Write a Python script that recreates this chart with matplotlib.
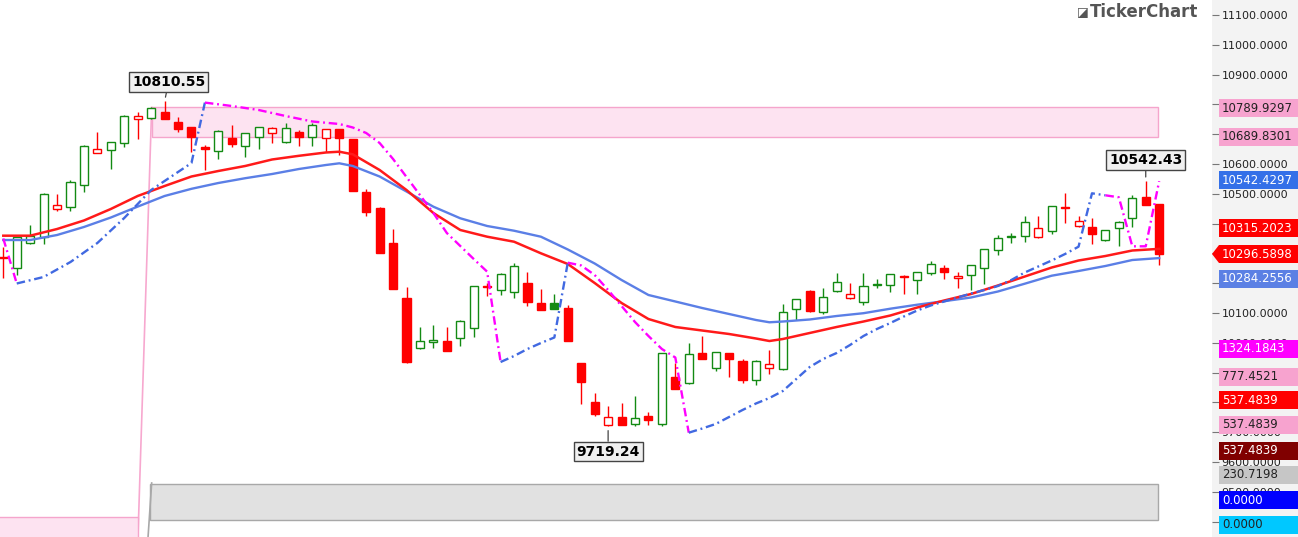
import numpy as np
import matplotlib.pyplot as plt
from matplotlib.patches import Rectangle, Polygon
from matplotlib.ticker import FuncFormatter

# daily candles
opens = [10287.9, 10249.9, 10335.8, 10356.0, 10448.9, 10456.7, 10529.5, 10635.8, 10646.9, 10671.4,
         10750.9, 10753.3, 10773.4, 10739.9, 10723.1, 10656.0, 10643.6, 10686.2, 10660.3, 10691.5,
         10705.0, 10672.8, 10706.3, 10691.5, 10686.2, 10716.4, 10682.8, 10507.0, 10453.3, 10333.8,
         10149.3, 9981.5, 10004.3, 10006.0, 10015.0, 10048.6, 10189.5, 10177.1, 10169.4, 10201.6,
         10134.5, 10132.5, 10115.7, 9931.1, 9800.3, 9725.0, 9752.0, 9726.0, 9755.3, 9728.0,
         9886.2, 9864.0, 9964.7, 9916.4, 9964.7, 9939.9, 9875.1, 9914.4, 9912.0, 10113.4,
         10174.8, 10104.3, 10174.8, 10149.3, 10135.8, 10195.6, 10193.9, 10223.1, 10210.7, 10235.2,
         10249.9, 10217.4, 10227.5, 10249.9, 10311.3, 10354.0, 10358.3, 10354.0, 10376.1, 10455.6,
         10391.9, 10389.5, 10344.9, 10384.2, 10417.7, 10488.2, 10464.7]
highs = [10322.4, 10356.0, 10395.2, 10501.6, 10498.3, 10546.2, 10663.7, 10708.3, 10674.8, 10764.4,
         10775.4, 10791.2, 10810.55, 10758.7, 10723.1, 10663.7, 10714.0, 10730.8, 10705.0, 10725.1,
         10725.1, 10736.5, 10714.0, 10736.5, 10718.0, 10718.0, 10684.0, 10515.0, 10455.0, 10380.8,
         10188.2, 10054.0, 10059.7, 10051.9, 10075.0, 10192.0, 10201.6, 10235.2, 10266.7, 10236.5,
         10179.5, 10163.7, 10126.8, 9932.0, 9830.5, 9788.9, 9796.9, 9822.4, 9766.7, 9966.0,
         9931.1, 9998.3, 10023.8, 9969.0, 9966.0, 9945.6, 9941.0, 9975.8, 10130.1, 10147.0,
         10176.0, 10182.8, 10233.2, 10199.6, 10233.2, 10213.0, 10229.8, 10228.0, 10236.5, 10275.4,
         10261.0, 10236.5, 10262.0, 10315.0, 10361.7, 10369.4, 10425.4, 10424.0, 10460.0, 10501.6,
         10425.4, 10417.7, 10380.0, 10408.0, 10495.9, 10542.43, 10466.0]
lows = [10216.4, 10227.5, 10331.5, 10331.5, 10443.2, 10443.2, 10507.0, 10635.8, 10583.2, 10656.0,
        10683.8, 10752.0, 10750.0, 10708.3, 10641.2, 10579.8, 10616.7, 10658.0, 10622.4, 10649.3,
        10671.4, 10670.0, 10660.3, 10660.3, 10641.2, 10630.1, 10508.0, 10425.4, 10300.0, 10179.0,
        9933.0, 9980.0, 9981.0, 9971.0, 9989.2, 10020.4, 10157.0, 10160.3, 10149.3, 10123.4,
        10109.0, 10112.0, 10006.0, 9793.0, 9754.3, 9719.24, 9723.0, 9722.0, 9724.0, 9721.0,
        9844.0, 9863.0, 9944.0, 9905.3, 9886.2, 9864.0, 9858.3, 9895.2, 9910.0, 10076.4,
        10105.0, 10096.6, 10169.4, 10148.0, 10126.8, 10182.8, 10171.4, 10163.7, 10163.7, 10227.5,
        10213.0, 10184.8, 10177.1, 10197.3, 10294.6, 10333.8, 10339.2, 10352.0, 10365.0, 10400.9,
        10390.0, 10331.5, 10343.0, 10324.8, 10387.5, 10461.0, 10261.0]
closes = [10284.5, 10354.0, 10357.0, 10498.3, 10462.4, 10540.5, 10660.3, 10651.3, 10674.8, 10762.0,
          10760.0, 10786.8, 10752.0, 10717.4, 10691.5, 10651.3, 10711.7, 10667.0, 10703.0, 10723.1,
          10719.7, 10722.4, 10691.5, 10730.8, 10716.4, 10686.2, 10509.3, 10439.9, 10302.3, 10180.5,
          9934.5, 10007.0, 10008.7, 9972.4, 10074.1, 10190.5, 10186.2, 10229.8, 10258.7, 10135.8,
          10110.0, 10113.4, 10007.0, 9869.4, 9761.0, 9749.9, 9725.0, 9746.6, 9740.9, 9964.7,
          9844.9, 9962.4, 9945.6, 9968.1, 9945.6, 9875.1, 9939.9, 9927.8, 10102.3, 10145.9,
          10106.6, 10152.6, 10203.0, 10162.7, 10191.5, 10198.9, 10229.8, 10220.7, 10236.5, 10263.4,
          10236.5, 10225.1, 10261.0, 10313.7, 10350.6, 10357.3, 10406.3, 10384.2, 10459.0, 10451.3,
          10408.7, 10365.0, 10378.5, 10406.3, 10484.8, 10462.4, 10296.59]

# moving averages, read at these bars
ma_idx = [0, 2, 4, 6, 8, 10, 12, 14, 16, 18, 20, 22, 24, 25, 26, 28, 30, 32, 34, 36,
          38, 40, 42, 44, 46, 48, 50, 52, 54, 56, 57, 58, 60, 62, 64, 66, 68, 70, 72, 74,
          76, 78, 80, 82, 84, 86]
ma_fast = [10359.4, 10359.4, 10381.8, 10410.4, 10449.0, 10492.6, 10526.1, 10558.0, 10576.5, 10593.3,
           10615.1, 10627.5, 10638.6, 10641.2, 10632.5, 10579.8, 10512.7, 10435.5, 10378.5, 10356.0,
           10339.2, 10300.3, 10264.4, 10200.6, 10133.5, 10079.8, 10053.0, 10041.2, 10029.5, 10014.4,
           10006.0, 10012.7, 10032.9, 10053.0, 10071.4, 10091.6, 10118.4, 10141.9, 10163.7, 10192.3,
           10222.4, 10252.6, 10276.1, 10291.2, 10309.7, 10315.2]
ma_slow = [10344.9, 10344.9, 10361.7, 10388.6, 10420.4, 10457.0, 10492.6, 10516.7, 10536.2, 10552.3,
           10566.4, 10583.2, 10596.6, 10602.3, 10593.3, 10558.0, 10507.7, 10456.7, 10417.8, 10391.9,
           10376.1, 10356.0, 10313.1, 10266.1, 10210.7, 10160.4, 10138.6, 10116.7, 10096.6, 10076.5,
           10068.8, 10071.4, 10078.2, 10089.9, 10099.3, 10114.4, 10127.8, 10139.6, 10152.0, 10172.1,
           10198.3, 10225.1, 10240.9, 10257.7, 10277.8, 10284.26]

# trailing stop line: vertices and side of the segment that starts there (S = short, L = long)
stop_idx = [0, 1, 3, 5, 7, 9, 11, 13, 14, 15, 17, 19, 21, 23, 25, 26, 27, 28, 29, 30,
            31, 32, 33, 34, 35, 36, 37, 38, 39, 40, 41, 42, 43, 44, 45, 46, 47, 48, 49, 50,
            51, 52, 53, 54, 55, 56, 57, 58, 59, 60, 61, 62, 63, 64, 65, 66, 67, 68, 69, 70,
            71, 72, 73, 74, 75, 76, 77, 78, 79, 80, 81, 82, 83, 84, 85, 86]
stop_val = [10350.0, 10199.0, 10220.8, 10271.1, 10334.9, 10418.8, 10512.7, 10573.1, 10603.3, 10806.0,
            10794.6, 10781.2, 10761.0, 10742.6, 10734.2, 10722.5, 10704.0, 10670.4, 10616.7, 10556.3,
            10495.9, 10435.5, 10368.4, 10324.8, 10281.2, 10238.6, 9935.5, 9955.7, 9979.2, 9999.3,
            10017.8, 10268.8, 10259.4, 10227.5, 10177.1, 10123.5, 10069.8, 10022.8, 9979.2, 9950.6,
            9698.3, 9712.4, 9727.5, 9751.0, 9774.5, 9796.3, 9814.7, 9838.2, 9878.5, 9918.8,
            9945.6, 9965.7, 9992.6, 10022.8, 10046.3, 10066.4, 10088.2, 10108.4, 10125.1, 10138.6,
            10152.0, 10165.4, 10177.1, 10190.6, 10210.7, 10235.9, 10256.0, 10276.1, 10298.0, 10322.5,
            10501.6, 10494.9, 10488.2, 10323.8, 10323.8, 10542.43]
stop_side = "SLLLLLLLLSSSSSSSSSSSSSSSSSLLLLLSSSSSSSSSLLLLLLLLLLLLLLLLLLLLLLLLLLLLLLLSSSSLL"

zone_top = 10789.93
zone_bottom = 10689.83

# value tags on the price scale (text, background, text colour)
tag_text = ['10789.9297', '10689.8301', '10542.4297', '10315.2023', '10296.5898', '10284.2556',
            '1324.1843', '777.4521', '537.4839', '537.4839', '537.4839', '230.7198', '0.0000', '0.0000']
tag_bg = ['#f7a3cf', '#f7a3cf', '#3470e8', '#ff0000', '#ff0000', '#5b80e4',
          '#ff00ff', '#f7a3cf', '#ff0000', '#f7a3cf', '#800000', '#c6c6c6', '#0000ff', '#00c8ff']
tag_fg = ['#222222', '#222222', 'white', 'white', 'white', 'white',
          'white', '#222222', 'white', '#222222', 'white', '#222222', 'white', '#222222']
tag_y = [108, 137, 180, 228, 254, 279, 349, 377, 400, 425, 451, 475, 500, 525]

# scale levels that sit completely under a tag
hidden_levels = [10800, 10700, 10300, 10200]

GREEN = '#138a13'
RED = '#ff0000'

fig = plt.figure(figsize=(12.98, 5.37), dpi=100, facecolor='#f3f3f3')
ax = fig.add_axes([0, 0, 1212 / 1298, 1])
ax.set_facecolor('white')
ax.set_xlim(-0.245, 89.93)
ax.set_ylim(9348.3, 11150.3)

n = len(closes)
# zone and drawings behind the candles
ax.add_patch(Rectangle((11.04, zone_bottom), 85.9 - 11.04, zone_top - zone_bottom,
                       facecolor='#fde3f1', edgecolor='#f5a5cc', lw=1, zorder=1))
ax.plot([11.04, 10.02], [zone_top, 9348.3], color='#f7a8cf', lw=1.2, zorder=1)
ax.add_patch(Rectangle((-1, 9300), 11.02, 9415.4 - 9300, facecolor='#fde3f1',
                       edgecolor='#f5a5cc', lw=1, zorder=1))
ax.add_patch(Rectangle((10.92, 9405.3), 85.9 - 10.92, 9526.1 - 9405.3,
                       facecolor='#e1e1e1', edgecolor='#a8a8a8', lw=1, zorder=1))
ax.plot([11.04, 10.77], [9529.5, 9348.3], color='#a8a8a8', lw=1.2, zorder=1)

# candles
for i in range(n):
    o, h, l, c = opens[i], highs[i], lows[i], closes[i]
    up = i > 0 and c >= closes[i - 1]
    col = GREEN if up else RED
    top, bot = max(o, c), min(o, c)
    ax.vlines(i, top, h, color=col, lw=1.0, zorder=3)
    ax.vlines(i, l, bot, color=col, lw=1.0, zorder=3)
    face = 'white' if c > o else col
    ax.add_patch(Rectangle((i - 0.3, bot), 0.6, max(top - bot, 1.0),
                           facecolor=face, edgecolor=col, lw=1.0, zorder=3))

# moving averages
ax.plot(ma_idx, ma_slow, color='#5b7fe6', lw=1.7, zorder=4)
ax.plot(ma_idx, ma_fast, color='#ff1a1a', lw=1.8, zorder=4)

# trailing stop, split into runs of the same side
dash = (0, (3.6, 1.6, 0.8, 1.6))
start = 0
for k in range(1, len(stop_idx)):
    if k == len(stop_idx) - 1 or stop_side[k] != stop_side[start]:
        colr = '#ff00ff' if stop_side[start] == 'S' else '#4169e1'
        ax.plot(stop_idx[start:k + 1], stop_val[start:k + 1], color=colr, lw=1.7,
                linestyle=dash, zorder=5)
        start = k

# high / low labels
box = dict(boxstyle='square,pad=0.2', fc='#f0f0f0', ec='#444444', lw=1)
arr = dict(arrowstyle='-', color='#444444', lw=0.9, shrinkA=0, shrinkB=3)
ax.annotate('10810.55', xy=(12, 10810.55), xytext=(3, 9), textcoords='offset points',
            ha='center', va='bottom', fontsize=10, fontweight='bold', bbox=box, arrowprops=arr, zorder=6)
ax.annotate('9719.24', xy=(45, 9719.24), xytext=(0, -13), textcoords='offset points',
            ha='center', va='top', fontsize=10, fontweight='bold', bbox=box, arrowprops=arr, zorder=6)
ax.annotate('10542.43', xy=(85, 10542.43), xytext=(0, 10), textcoords='offset points',
            ha='center', va='bottom', fontsize=10, fontweight='bold', bbox=box, arrowprops=arr, zorder=6)

# price scale
for s in ax.spines.values():
    s.set_visible(False)
ax.set_xticks([])
ax.yaxis.tick_right()
ax.set_yticks(np.arange(9400, 11101, 100))
ax.yaxis.set_major_formatter(FuncFormatter(
    lambda v, pos: '' if round(v) in hidden_levels else '%.4f' % v))
ax.tick_params(axis='y', length=5, color='#777777', labelsize=8, pad=2, labelcolor='#222222')

sx = fig.add_axes([1212 / 1298, 0, 86 / 1298, 1], zorder=5)
sx.set_xlim(1212, 1298)
sx.set_ylim(537, 0)
sx.axis('off')
sx.patch.set_alpha(0)
for t, bg, fg, yc in zip(tag_text, tag_bg, tag_fg, tag_y):
    if t == '10296.5898':
        sx.add_patch(Polygon([(1212, yc), (1219, yc - 9), (1300, yc - 9), (1300, yc + 9), (1219, yc + 9)],
                             closed=True, facecolor=bg, edgecolor='none'))
    else:
        sx.add_patch(Rectangle((1219, yc - 9), 82, 18, facecolor=bg, edgecolor='none'))
    sx.text(1222, yc, t, color=fg, fontsize=8.5, va='center', ha='left')

fig.text(1077 / 1298, 1 - 12 / 537, '\u25ea', fontsize=9, color='#555555', va='center', ha='left')
fig.text(1090 / 1298, 1 - 12 / 537, 'TickerChart', fontsize=12, fontweight='bold',
         color='#555555', va='center', ha='left')

fig.savefig('out.png', dpi=100, facecolor=fig.get_facecolor())
